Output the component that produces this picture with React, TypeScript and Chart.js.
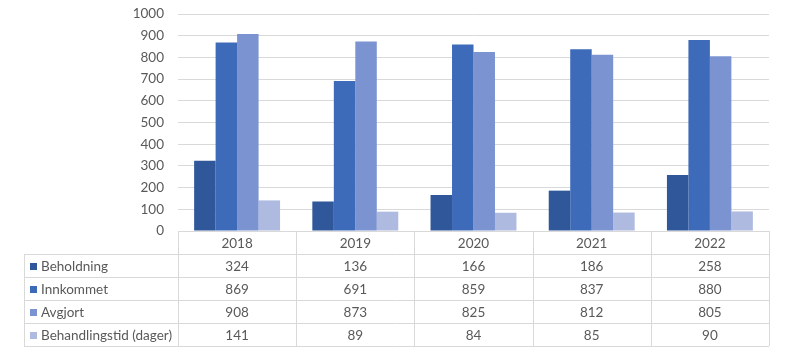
import React, { useEffect, useRef } from "react";
import { Chart, registerables } from "chart.js";

Chart.register(...registerables);

const categories = ["2018", "2019", "2020", "2021", "2022"];
const seriesNames = ["Beholdning", "Innkommet", "Avgjort", "Behandlingstid (dager)"];
const beholdning = [324, 136, 166, 186, 258];
const innkommet = [869, 691, 859, 837, 880];
const avgjort = [908, 873, 825, 812, 805];
const behandlingstid = [141, 89, 84, 85, 90];
const yTicks = [0, 100, 200, 300, 400, 500, 600, 700, 800, 900, 1000];
const colors = ["#30579A", "#3E6BB9", "#7B93D0", "#AEBADF"];

const FONT = "Lato, 'Open Sans', sans-serif";
const FS = 13.5;

export default function App() {
  const ref = useRef<HTMLCanvasElement | null>(null);

  useEffect(() => {
    document.body.style.margin = "0";
    const canvas = ref.current;
    if (!canvas) return;
    const seriesData = [beholdning, innkommet, avgjort, behandlingstid];

    const tablePlugin = {
      id: "dataTable",
      afterDraw(chart: any) {
        const ctx = chart.ctx;
        const area = chart.chartArea;
        const x = chart.scales.x;
        const n = categories.length;
        const colW = (area.right - area.left) / n;
        const rowH = 23;
        const top = area.bottom;
        const tableLeft = 24;
        ctx.save();
        ctx.strokeStyle = "#D9D9D9";
        ctx.lineWidth = 1;
        ctx.beginPath();
        ctx.moveTo(area.left, Math.round(top) + 0.5);
        ctx.lineTo(area.right, Math.round(top) + 0.5);
        for (let r = 1; r <= 5; r++) {
          const y = Math.round(top + r * rowH) + 0.5;
          ctx.moveTo(tableLeft, y);
          ctx.lineTo(area.right, y);
        }
        for (let c = 0; c <= n; c++) {
          const xx = Math.round(area.left + c * colW) + 0.5;
          ctx.moveTo(xx, top);
          ctx.lineTo(xx, top + 5 * rowH);
        }
        ctx.moveTo(tableLeft + 0.5, top + rowH);
        ctx.lineTo(tableLeft + 0.5, top + 5 * rowH);
        ctx.stroke();

        ctx.fillStyle = "#595959";
        ctx.font = FS + "px " + FONT;
        ctx.textAlign = "center";
        ctx.textBaseline = "middle";
        categories.forEach((cat, i) => {
          const cx = x.getPixelForValue(i);
          ctx.fillText(cat, cx, top + rowH / 2 + 1);
          seriesData.forEach((arr, s) => {
            ctx.fillText(String(arr[i]), cx, top + rowH * (s + 1) + rowH / 2 + 1);
          });
        });
        ctx.textAlign = "left";
        seriesNames.forEach((name, s) => {
          const cy = top + rowH * (s + 1) + rowH / 2;
          ctx.fillStyle = colors[s];
          ctx.fillRect(30, Math.round(cy) - 3, 7, 7);
          ctx.fillStyle = "#595959";
          ctx.fillText(name, 41, cy + 1);
        });
        ctx.restore();
      },
    };

    const chart = new Chart(canvas, {
      type: "bar",
      data: {
        labels: categories,
        datasets: seriesNames.map((name, s) => ({
          label: name,
          data: seriesData[s],
          backgroundColor: colors[s],
          borderWidth: 0,
          categoryPercentage: 0.727,
          barPercentage: 1,
        })),
      },
      options: {
        animation: false,
        responsive: false,
        maintainAspectRatio: false,
        layout: { autoPadding: false, padding: { top: 14, right: 18, bottom: 122, left: 0 } },
        plugins: {
          legend: { display: false },
          tooltip: { enabled: false },
        },
        scales: {
          x: { display: false },
          y: {
            min: 0,
            max: 1000,
            afterBuildTicks(scale: any) {
              scale.ticks = yTicks.map((v) => ({ value: v }));
            },
            afterFit(scale: any) {
              scale.width = 178;
              scale.paddingTop = 0;
              scale.paddingBottom = 0;
            },
            border: { display: false },
            grid: { color: "#D9D9D9", drawTicks: false },
            ticks: {
              padding: 14,
              color: "#595959",
              font: { family: FONT, size: FS },
              callback: (v: any) => String(v),
            },
          },
        },
      },
      plugins: [tablePlugin],
    });
    return () => chart.destroy();
  }, []);

  return (
    <div style={{ position: "fixed", left: 0, top: 0, width: 787, height: 353, background: "#fff" }}>
      <canvas ref={ref} width={787} height={353} style={{ width: 787, height: 353 }} />
    </div>
  );
}
